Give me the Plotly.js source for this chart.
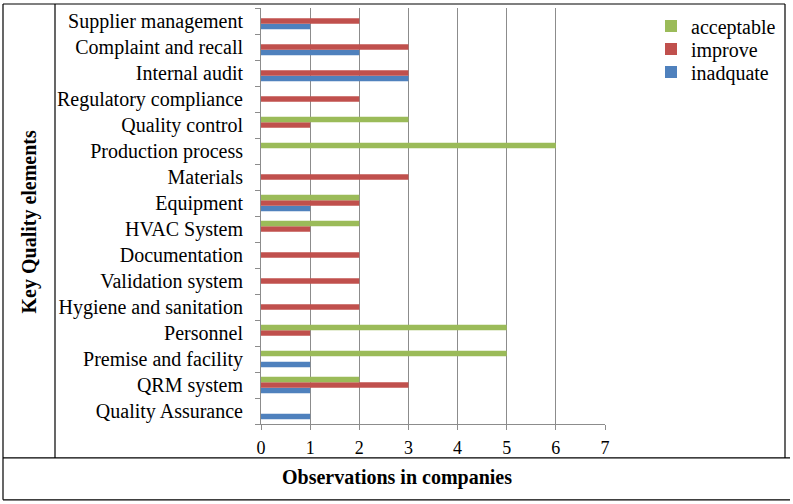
<!DOCTYPE html>
<html>
<head>
<meta charset="utf-8">
<script src="https://cdn.plot.ly/plotly-3.0.1.min.js"></script>
<style>
  html, body { margin: 0; padding: 0; background: #fff; }
  #chart { width: 793px; height: 504px; }
</style>
</head>
<body>
<div id="chart"></div>
<script>
// Quality elements, listed bottom to top as they sit on the category axis
const elements = [
  "Quality Assurance", "QRM system", "Premise and facility", "Personnel",
  "Hygiene and sanitation", "Validation system", "Documentation", "HVAC System",
  "Equipment", "Materials", "Production process", "Quality control",
  "Regulatory compliance", "Internal audit", "Complaint and recall", "Supplier management"
];

// Number of companies per rating
const acceptable = [0, 2, 5, 5, 0, 0, 0, 2, 2, 0, 6, 3, 0, 0, 0, 0];
const improve    = [0, 3, 0, 1, 2, 2, 2, 1, 2, 3, 0, 1, 2, 3, 3, 2];
const inadquate  = [1, 1, 1, 0, 0, 0, 0, 0, 1, 0, 0, 0, 0, 3, 2, 1];

const xTicks = [0, 1, 2, 3, 4, 5, 6, 7];

const serif = '"Liberation Serif", "Times New Roman", serif';

// plot area in pixels: x 261..605, y 7..424
const L = 261, R = 605, T = 7, B = 424;
const W = R - L, H = B - T;
const px = v => (v - L) / W;
const py = v => (B - v) / H;

function barTrace(name, values, color, legendId) {
  return {
    type: 'bar',
    orientation: 'h',
    name: name,
    y: elements,
    x: values,
    legend: legendId,
    marker: { color: color, line: { width: 0 } },
    hoverinfo: 'x+y+name'
  };
}

// first trace sits lowest inside each group
const data = [
  barTrace('inadquate', inadquate, '#4F81BD', 'legend3'),
  barTrace('improve', improve, '#C0504D', 'legend2'),
  barTrace('acceptable', acceptable, '#9BBB59', 'legend')
];

// one single-entry legend per series, stacked in the top-right corner
function legendAt(yCenter) {
  return {
    x: px(651), y: py(yCenter), xanchor: 'left', yanchor: 'middle',
    font: { family: serif, size: 20, color: '#000' },
    bgcolor: 'rgba(0,0,0,0)', borderwidth: 0
  };
}

const frame = { color: '#000', width: 1.2 };
function line(x0, y0, x1, y1) {
  return { type: 'line', xref: 'paper', yref: 'paper',
           x0: px(x0), y0: py(y0), x1: px(x1), y1: py(y1), line: frame };
}

const layout = {
  width: 793,
  height: 504,
  margin: { l: L, r: 793 - R, t: T, b: 504 - B, pad: 0 },
  paper_bgcolor: '#fff',
  plot_bgcolor: '#fff',
  barmode: 'group',
  bargap: 0.37,
  bargroupgap: 0,
  font: { family: serif, color: '#000', size: 20 },
  showlegend: true,
  legend: legendAt(26),
  legend2: legendAt(49),
  legend3: legendAt(72),
  xaxis: {
    range: [0, 7],
    tickvals: xTicks,
    ticktext: xTicks.map(String),
    showgrid: true,
    gridcolor: '#8c8c8c',
    gridwidth: 1,
    zeroline: false,
    showline: true,
    linecolor: '#8c8c8c',
    ticks: 'outside',
    ticklen: 5,
    tickcolor: '#8c8c8c',
    ticklabelstandoff: 2,
    tickfont: { family: serif, size: 18, color: '#000' },
    fixedrange: true
  },
  yaxis: {
    type: 'category',
    range: [-0.5, 15.5],
    showgrid: false,
    zeroline: false,
    showline: true,
    linecolor: '#8c8c8c',
    ticks: 'outside',
    tickson: 'boundaries',
    ticklen: 5,
    tickcolor: '#8c8c8c',
    ticklabelstandoff: 13,
    tickfont: { family: serif, size: 20, color: '#000' },
    automargin: false,
    fixedrange: true
  },
  shapes: [
    line(3, 3, 785, 3),      // top
    line(3, 3, 3, 500),      // left
    line(785, 3, 785, 458),  // right of chart cell
    line(55, 3, 55, 458),    // divider next to vertical title
    line(3, 458, 790, 458),  // divider above horizontal title
    line(3, 500, 790, 500)   // bottom
  ],
  annotations: [
    {
      xref: 'paper', yref: 'paper', x: px(396.5), y: py(478),
      xanchor: 'center', yanchor: 'middle', showarrow: false,
      text: '<b>Observations in companies</b>',
      font: { family: serif, size: 20, color: '#000' }
    },
    {
      xref: 'paper', yref: 'paper', x: px(29), y: py(221),
      xanchor: 'center', yanchor: 'middle', showarrow: false,
      textangle: -90,
      text: '<b>Key Quality elements</b>',
      font: { family: serif, size: 20, color: '#000' }
    }
  ]
};

Plotly.newPlot('chart', data, layout, { displayModeBar: false, staticPlot: true });
</script>
</body>
</html>
